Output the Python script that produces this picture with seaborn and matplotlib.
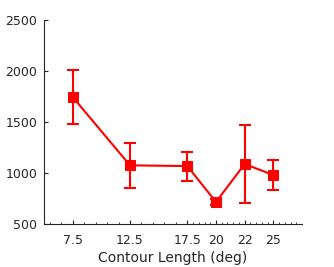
import matplotlib
matplotlib.use("Agg")
import matplotlib.pyplot as plt
import numpy as np
import pandas as pd
import seaborn as sns

# data
contour_length = ["7.5", "12.5", "17.5", "20", "22", "25"]
mean_value = [1745, 1075, 1068, 716, 1088, 980]
err_upper = [2008, 1294, 1206, 745, 1467, 1124]
err_lower = [1480, 853, 919, 690, 706, 833]
y_ticks = [500, 1000, 1500, 2000, 2500]

# layout positions of categories on the axis
x_pos = [1, 3, 5, 6, 7, 8]

sns.set_theme(style="white")
plt.rcParams['font.family'] = ['DejaVu Sans']

fig = plt.figure(figsize=(3.34, 2.67), dpi=100)
ax = fig.add_axes([44/334, 1-224/267, (302-44)/334, (224-20)/267])

df = pd.DataFrame({"x": x_pos, "y": mean_value})
yerr = np.array([np.array(mean_value) - np.array(err_lower),
                 np.array(err_upper) - np.array(mean_value)])
ax.errorbar(x_pos, mean_value, yerr=yerr, fmt="none", ecolor="#ff0000",
            elinewidth=1.5, capsize=4.5, capthick=1.5, zorder=2)
sns.lineplot(data=df, x="x", y="y", ax=ax, color="#ff0000", linewidth=1.5,
             marker="s", markersize=7.5, markeredgecolor="#ff0000",
             markerfacecolor="#ff0000", zorder=3)

ax.set_xlim(0, 9)
ax.set_ylim(500, 2500)
ax.set_xticks(x_pos)
ax.set_xticklabels(contour_length)
ax.set_yticks(y_ticks)
minor = list(np.arange(0.2, 5.0, 0.4)) + list(np.arange(5.2, 9.0, 0.2))
ax.set_xticks(minor, minor=True)

for s in ["top", "right"]:
    ax.spines[s].set_visible(False)
for s in ["left", "bottom"]:
    ax.spines[s].set_color("#262626")
    ax.spines[s].set_linewidth(0.8)

ax.tick_params(axis="both", which="major", direction="in", length=3,
               width=0.8, color="#262626", labelsize=9, labelcolor="#262626", pad=5)
ax.tick_params(axis="x", which="minor", direction="in", length=1.8,
               width=0.6, color="#262626", bottom=True)
ax.tick_params(axis="x", which="major", bottom=True, pad=7)
ax.tick_params(axis="y", which="major", left=True)

ax.set_xlabel("Contour Length (deg)", fontsize=10, color="#262626", labelpad=3)
ax.set_ylabel("")
ax.grid(False)

fig.savefig("out.png", dpi=100)
